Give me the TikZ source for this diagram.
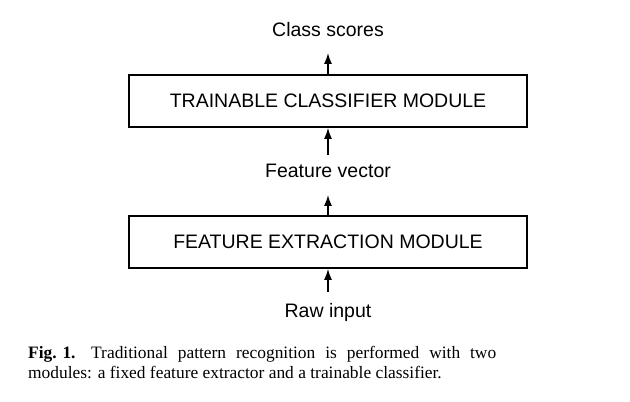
\documentclass[tikz,border=0pt]{standalone}
\usepackage{fontspec}
\setmainfont{Liberation Serif}
\newfontfamily\arialfont{Liberation Sans}
\usetikzlibrary{arrows.meta,positioning}

\begin{document}
\begin{tikzpicture}[x=1pt, y=1pt,
  module/.style={draw, line width=1.8pt, minimum width=398pt, minimum height=52pt,
                 inner sep=0pt, font=\arialfont\fontsize{19.5}{22}\selectfont},
  lbl/.style={inner sep=0pt, anchor=base, font=\arialfont\fontsize{19.5}{22}\selectfont},
  arr/.style={-{Latex[length=11pt, width=8pt]}, line width=1.4pt}
]
\useasboundingbox (0,0) rectangle (630,402);
\node[module] (clf) at (328,301) {TRAINABLE CLASSIFIER MODULE};
\node[module] (fex) at (328,160) {FEATURE EXTRACTION MODULE};
\node[lbl] (scores) at (328,365) {Class scores};
\node[lbl] (fvec) at (328,224) {Feature vector};
\node[lbl] (raw) at (328,84) {Raw input};
\draw[arr] (clf.north) -- ([yshift=-16pt]scores.base);
\draw[arr] ([yshift=23pt]fvec.base) -- (clf.south);
\draw[arr] (fex.north) -- ([yshift=-17pt]fvec.base);
\draw[arr] ([yshift=26pt]raw.base) -- (fex.south);
\node[anchor=north west, inner sep=0pt, text width=468pt, align=justify,
      font=\fontsize{17.4}{20}\selectfont] (cap) at (28,56)
  {\hyphenpenalty=10000 \mbox{\textbf{Fig. 1.}}\hspace{0.9em}Traditional pattern recognition is performed with two\linebreak modules: a fixed feature extractor and a trainable classifier.};
\end{tikzpicture}
\end{document}
